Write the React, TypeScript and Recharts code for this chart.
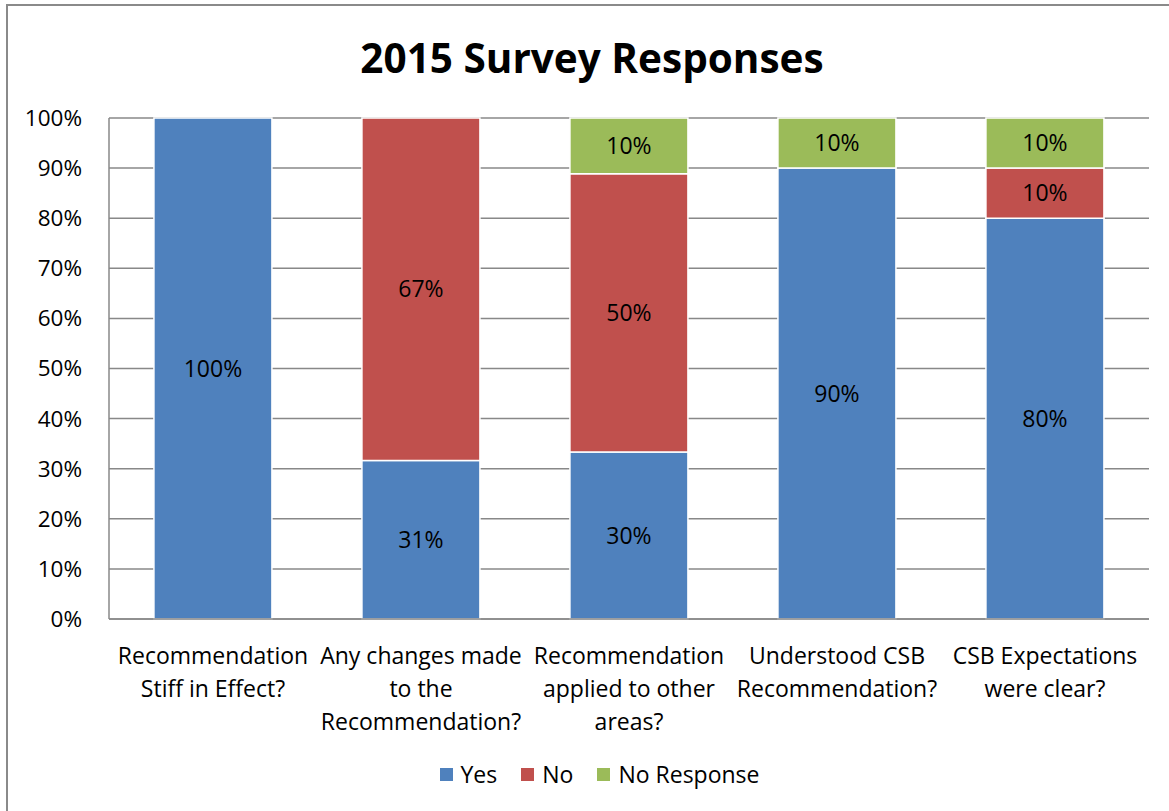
import React from 'react';
import { BarChart, Bar, XAxis, YAxis, CartesianGrid, Legend, LabelList } from 'recharts';

// raw survey answers, bars are drawn 100% stacked (stackOffset="expand")
const categories = [
  'Recommendation\nStiff in Effect?',
  'Any changes made\nto the\nRecommendation?',
  'Recommendation\napplied to other\nareas?',
  'Understood CSB\nRecommendation?',
  'CSB Expectations\nwere clear?',
];
const yesValues = [100, 31, 30, 90, 80];
const noValues = [0, 67, 50, 0, 10];
const noResponseValues = [0, 0, 10, 10, 10];
const seriesNames = ['Yes', 'No', 'No Response'];
const yTicks = [0, 0.1, 0.2, 0.3, 0.4, 0.5, 0.6, 0.7, 0.8, 0.9, 1];

const data = categories.map((category, i) => ({
  category,
  yes: yesValues[i],
  no: noValues[i],
  noResponse: noResponseValues[i],
}));

const FONT = '"Open Sans", sans-serif';

const CategoryTick = (props: any) => {
  const { x, y, payload } = props;
  const lines = String(payload.value).split('\n');
  return (
    <text x={x} y={y + 43} textAnchor="middle" fontSize={23} fill="#000">
      {lines.map((line, i) => (
        <tspan key={i} x={x} dy={i === 0 ? 0 : 33}>
          {line}
        </tspan>
      ))}
    </text>
  );
};

const LegendContent = (props: any) => {
  const items = [...(props.payload || [])].sort(
    (a: any, b: any) => seriesNames.indexOf(a.value) - seriesNames.indexOf(b.value)
  );
  return (
    <div style={{ height: 40, display: 'flex', justifyContent: 'center', alignItems: 'center', paddingLeft: 74 }}>
      {items.map((entry: any) => (
        <div key={entry.value} style={{ display: 'flex', alignItems: 'center', marginRight: 24 }}>
          <span style={{ width: 13, height: 13, background: entry.color, display: 'inline-block', marginRight: 8 }} />
          <span style={{ fontSize: 23, color: '#000' }}>{entry.value}</span>
        </div>
      ))}
    </div>
  );
};

const pct = (v: any) => (v ? `${v}%` : '');

export default function App() {
  return (
    <div
      style={{
        position: 'absolute',
        left: 0,
        top: 0,
        width: 1169,
        height: 811,
        overflow: 'hidden',
        background: '#fff',
        fontFamily: FONT,
      }}
    >
      <div
        style={{
          position: 'absolute',
          left: 6,
          top: 4,
          width: 1300,
          height: 1000,
          border: '2px solid #8a8a8a',
        }}
      />
      <div
        style={{
          position: 'absolute',
          left: 0,
          top: 31,
          width: 1184,
          textAlign: 'center',
          fontSize: 40.5,
          fontWeight: 700,
          lineHeight: '54px',
          color: '#000',
        }}
      >
        2015 Survey Responses
      </div>
      <div style={{ position: 'absolute', left: 0, top: 0 }}>
        <BarChart
          width={1169}
          height={811}
          data={data}
          stackOffset="expand"
          barCategoryGap="21.6%"
          margin={{ top: 118, right: 20, left: 0, bottom: 17 }}
        >
          <CartesianGrid vertical={false} stroke="#888" strokeWidth={1.5} />
          <XAxis
            dataKey="category"
            height={135}
            interval={0}
            tickLine={false}
            tickSize={0}
            axisLine={{ stroke: '#888', strokeWidth: 1.5 }}
            tick={<CategoryTick />}
          />
          <YAxis
            width={109}
            domain={[0, 1]}
            ticks={yTicks}
            tickLine={false}
            tickSize={0}
            tickMargin={27}
            axisLine={{ stroke: '#888', strokeWidth: 1.5 }}
            tick={{ fill: '#000', fontSize: 22.5 }}
            tickFormatter={(v: number) => `${Math.round(v * 100)}%`}
          />
          <Legend verticalAlign="bottom" content={<LegendContent />} />
          <Bar dataKey="yes" name="Yes" stackId="a" fill="#4F81BD" stroke="#fff" strokeWidth={1.5} isAnimationActive={false}>
            <LabelList dataKey="yes" position="center" formatter={pct} fill="#000" fontSize={23} />
          </Bar>
          <Bar dataKey="no" name="No" stackId="a" fill="#C0504D" stroke="#fff" strokeWidth={1.5} isAnimationActive={false}>
            <LabelList dataKey="no" position="center" formatter={pct} fill="#000" fontSize={23} />
          </Bar>
          <Bar dataKey="noResponse" name="No Response" stackId="a" fill="#9BBB59" stroke="#fff" strokeWidth={1.5} isAnimationActive={false}>
            <LabelList dataKey="noResponse" position="center" formatter={pct} fill="#000" fontSize={23} />
          </Bar>
        </BarChart>
      </div>
    </div>
  );
}
